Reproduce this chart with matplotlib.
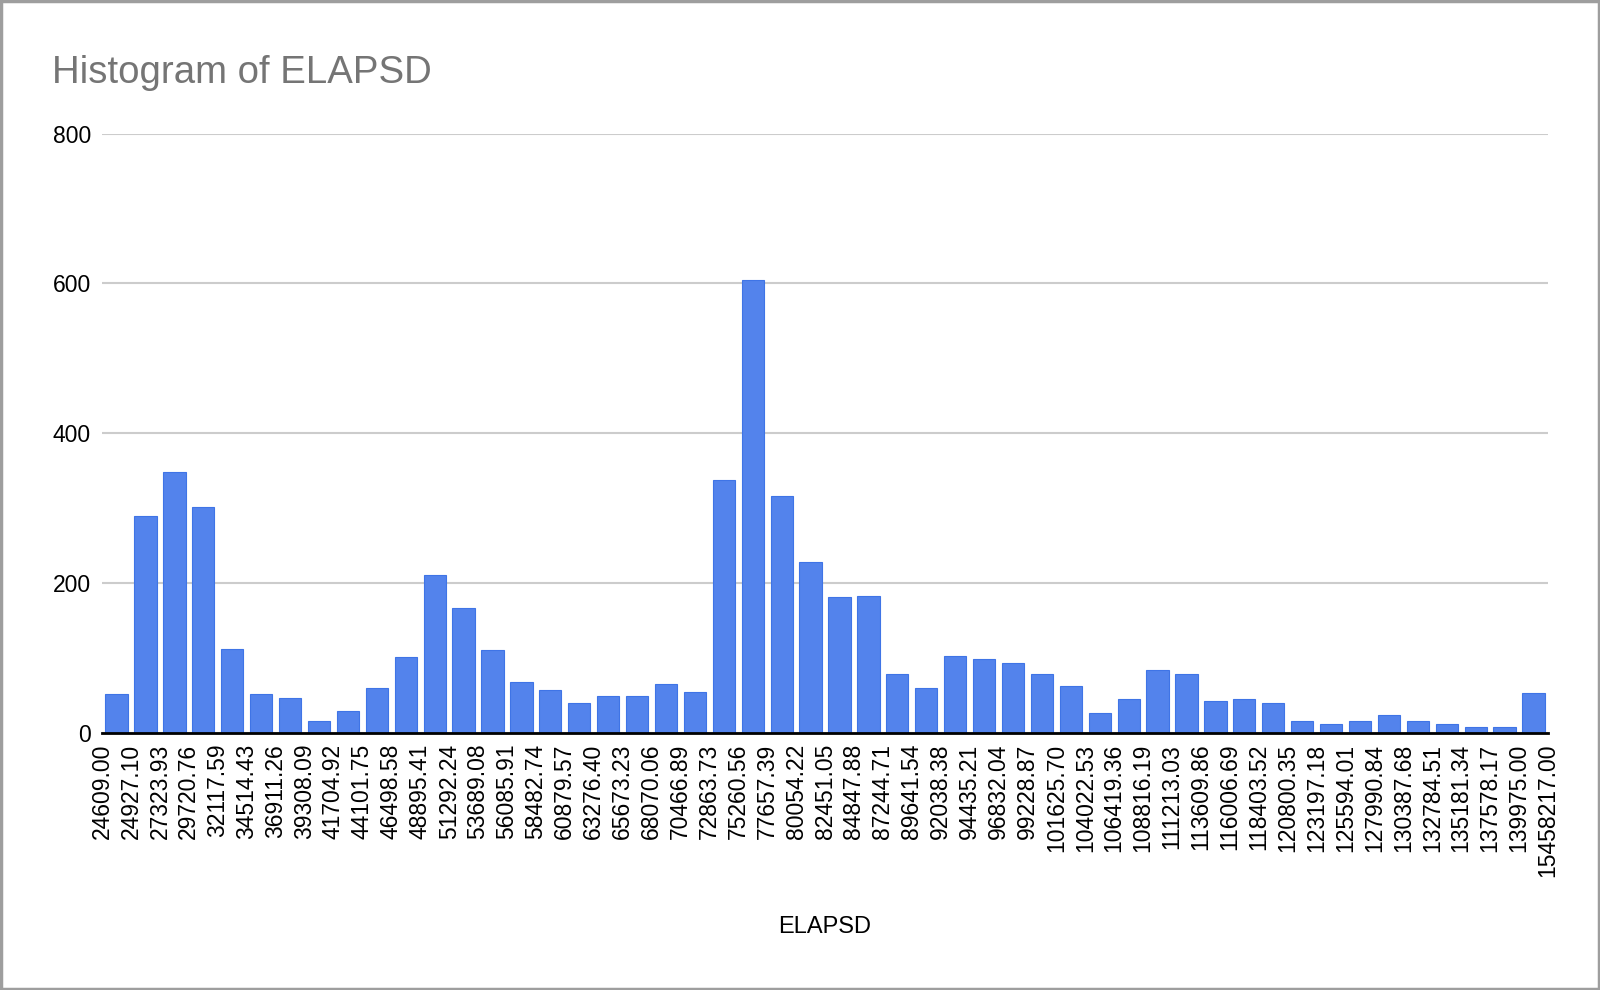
import matplotlib.pyplot as plt
from matplotlib.patches import Rectangle


# bucket edges as printed under the axis (one more edge than there are bars)
EDGE_LABELS = ['24609.00', '24927.10', '27323.93', '29720.76', '32117.59', '34514.43',
               '36911.26', '39308.09', '41704.92', '44101.75', '46498.58', '48895.41',
               '51292.24', '53689.08', '56085.91', '58482.74', '60879.57', '63276.40',
               '65673.23', '68070.06', '70466.89', '72863.73', '75260.56', '77657.39',
               '80054.22', '82451.05', '84847.88', '87244.71', '89641.54', '92038.38',
               '94435.21', '96832.04', '99228.87', '101625.70', '104022.53', '106419.36',
               '108816.19', '111213.03', '113609.86', '116006.69', '118403.52', '120800.35',
               '123197.18', '125594.01', '127990.84', '130387.68', '132784.51', '135181.34',
               '137578.17', '139975.00', '15458217.00']

COUNTS = [52, 290, 348, 302, 112, 52, 47, 16, 29, 60,
          101, 210, 166, 110, 68, 57, 39, 49, 49, 65,
          54, 337, 605, 316, 228, 181, 183, 78, 60, 103,
          98, 93, 79, 63, 26, 45, 84, 79, 42, 45,
          40, 16, 11, 16, 24, 16, 11, 8, 8, 53]

Y_TICKS = [0, 200, 400, 600, 800]

plt.rcParams['font.family'] = ['Liberation Sans', 'DejaVu Sans']

fig = plt.figure(figsize=(16, 9.9), dpi=100)
ax = fig.add_axes([0.0638, 0.2599, 0.9037, 0.6051])

n_bars = len(COUNTS)
ax.bar(range(n_bars), COUNTS, width=0.77, color='#5383ec', edgecolor='#3f74e6',
       linewidth=0.8, zorder=3)

ax.set_xlim(-0.5, n_bars - 0.5)
ax.set_ylim(0, 800)
ax.set_yticks(Y_TICKS)
ax.set_yticklabels([str(t) for t in Y_TICKS], fontsize=16.5)
ax.set_xticks([i - 0.5 for i in range(len(EDGE_LABELS))])
ax.set_xticklabels(EDGE_LABELS, rotation=90, fontsize=16.5)
ax.tick_params(axis='both', length=0, colors='black')
ax.tick_params(axis='y', pad=8)
ax.tick_params(axis='x', pad=8)

ax.grid(axis='y', color='#cccccc', linewidth=1.5, zorder=0)
for side in ['top', 'right', 'left']:
    ax.spines[side].set_visible(False)
ax.spines['bottom'].set_color('black')
ax.spines['bottom'].set_linewidth(2)
ax.spines['bottom'].set_zorder(4)

ax.set_xlabel('ELAPSD', fontsize=17)
ax.xaxis.set_label_coords(0.5, -0.3244)
ax.xaxis.label.set_va('center')

fig.text(52 / 1600, 1 - 83 / 990, 'Histogram of ELAPSD', fontsize=27.6,
         color='#757575', va='baseline', ha='left')

# thin grey frame round the whole chart
fig.patches.append(Rectangle((0.0008, 0.0012), 0.9984, 0.9976, transform=fig.transFigure,
                             fill=False, edgecolor='#9e9e9e', linewidth=2.5))

fig.savefig('out.png', dpi=100)
